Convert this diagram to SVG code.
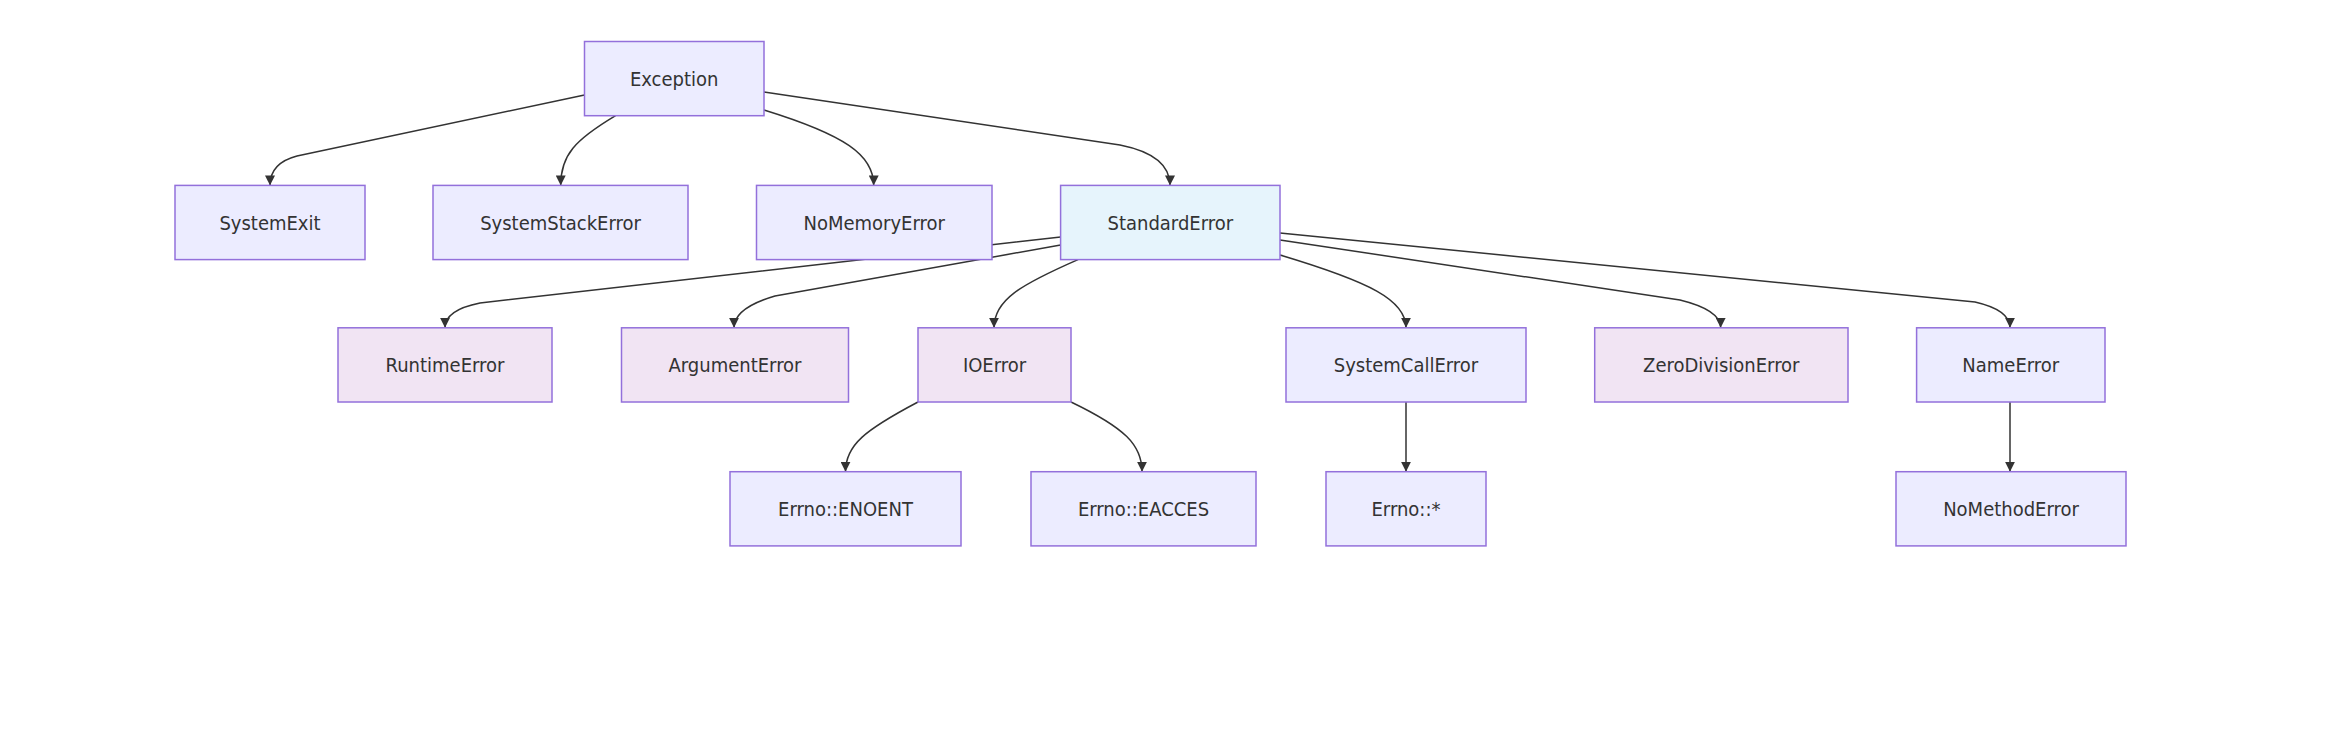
<svg xmlns="http://www.w3.org/2000/svg" width="2326" height="740" viewBox="0 0 2326 740">
<style>
.n rect{fill:#ECECFF;stroke:#9370DB;stroke-width:1.5}
.n.p rect{fill:#F1E4F3}
.n.b rect{fill:#E6F4FC}
.n text{font-family:"DejaVu Sans Condensed","DejaVu Sans",sans-serif;font-size:20px;fill:#333;text-anchor:middle;dominant-baseline:central}
.e path{fill:none;stroke:#333;stroke-width:1.5;marker-end:url(#a)}
</style>
<defs><marker id="a" viewBox="0 0 10 10" refX="10" refY="5" markerWidth="10" markerHeight="10" markerUnits="userSpaceOnUse" orient="auto"><path d="M0,0L10,5L0,10z" fill="#333"/></marker></defs>
<rect width="2326" height="740" fill="#fff"/>
<g id="connectors" class="e">
<path d="M584.5,95 L297,156 Q270,163 270,185.4"/>
<path d="M615.6,115.7 C575,140 560.7,155 560.7,185.4"/>
<path d="M764,110 C845,135 873.7,155 873.7,185.4"/>
<path d="M764,92 L1120,145 Q1170,155 1170,185.4"/>
<path d="M1060.6,237 L480,303 Q445,310 445,327.8"/>
<path d="M1060.6,245 L775,296 Q734,308 734,327.8"/>
<path d="M1078,259.6 C1020,285 994,300 994,327.8"/>
<path d="M1280,255 C1370,282 1406,300 1406,327.8"/>
<path d="M1280,240 L1680,300 Q1720.7,310 1720.7,327.8"/>
<path d="M1280,233 L1975,302 Q2010,310 2010,327.8"/>
<path d="M918,402 C865,430 845.5,445 845.5,471.7"/>
<path d="M1071,402 C1125,428 1142,445 1142,471.7"/>
<path d="M1406,402 L1406,471.7"/>
<path d="M2010,402 L2010,471.7"/>
</g>
<g id="Exception" class="n"><rect x="584.5" y="41.5" width="179.5" height="74.2"/><text x="674.2" y="78.6">Exception</text></g>
<g id="SystemExit" class="n"><rect x="175" y="185.4" width="190" height="74.2"/><text x="270" y="222.5">SystemExit</text></g>
<g id="SystemStackError" class="n"><rect x="433" y="185.4" width="255" height="74.2"/><text x="560.5" y="222.5">SystemStackError</text></g>
<g id="NoMemoryError" class="n"><rect x="756.5" y="185.4" width="235.5" height="74.2"/><text x="874.2" y="222.5">NoMemoryError</text></g>
<g id="StandardError" class="n b"><rect x="1060.6" y="185.4" width="219.4" height="74.2"/><text x="1170.3" y="222.5">StandardError</text></g>
<g id="RuntimeError" class="n p"><rect x="338" y="327.8" width="214" height="74.2"/><text x="445" y="364.9">RuntimeError</text></g>
<g id="ArgumentError" class="n p"><rect x="621.5" y="327.8" width="227" height="74.2"/><text x="735" y="364.9">ArgumentError</text></g>
<g id="IOError" class="n p"><rect x="918" y="327.8" width="153" height="74.2"/><text x="994.5" y="364.9">IOError</text></g>
<g id="SystemCallError" class="n"><rect x="1286" y="327.8" width="240" height="74.2"/><text x="1406" y="364.9">SystemCallError</text></g>
<g id="ZeroDivisionError" class="n p"><rect x="1594.7" y="327.8" width="253.3" height="74.2"/><text x="1721.3" y="364.9">ZeroDivisionError</text></g>
<g id="NameError" class="n"><rect x="1916.6" y="327.8" width="188.4" height="74.2"/><text x="2010.8" y="364.9">NameError</text></g>
<g id="ErrnoENOENT" class="n"><rect x="730" y="471.7" width="231" height="74.2"/><text x="845.5" y="508.8">Errno::ENOENT</text></g>
<g id="ErrnoEACCES" class="n"><rect x="1031" y="471.7" width="225" height="74.2"/><text x="1143.5" y="508.8">Errno::EACCES</text></g>
<g id="ErrnoAll" class="n"><rect x="1326" y="471.7" width="160" height="74.2"/><text x="1406" y="508.8">Errno::*</text></g>
<g id="NoMethodError" class="n"><rect x="1896" y="471.7" width="230" height="74.2"/><text x="2011" y="508.8">NoMethodError</text></g>
</svg>
